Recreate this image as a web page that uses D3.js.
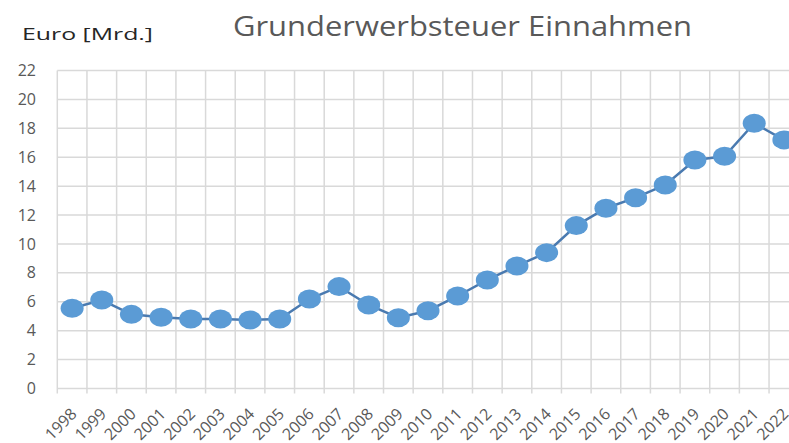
<!DOCTYPE html>
<meta charset="utf-8">
<style>
body {
  margin: 0;
  background-color: #fff;
}
.grid line {
  stroke: #d9d9d9;
  stroke-width: 1.5px;
}
.axis text {
  fill: #595959;
  font-family: "Open Sans", sans-serif;
  font-size: 16px;
}
.line {
  fill: none;
  stroke: #4a7ab0;
  stroke-width: 2.5px;
}
.dot {
  fill: #5b9bd5;
}
</style>
<svg class="chart" width="789" height="443"></svg>

<script src="https://d3js.org/d3.v7.min.js"></script>
<script>
var years = ["1998","1999","2000","2001","2002","2003","2004","2005","2006","2007","2008","2009",
             "2010","2011","2012","2013","2014","2015","2016","2017","2018","2019","2020","2021","2022"];
var revenue = [5.55, 6.12, 5.13, 4.93, 4.81, 4.81, 4.74, 4.81, 6.19, 7.05, 5.78, 4.9,
               5.38, 6.4, 7.51, 8.48, 9.4, 11.27, 12.47, 13.2, 14.08, 15.81, 16.07, 18.35, 17.2];
var yTicks = [0, 2, 4, 6, 8, 10, 12, 14, 16, 18, 20, 22];

var svg = d3.select(".chart");

var x = d3.scaleBand().domain(years).range([57.3, 798.7]);
var y = d3.scaleLinear().domain([0, 22]).range([388.5, 70.5]);

var data = years.map(function(d, i) { return {year: d, value: revenue[i]}; });

// gridlines
var grid = svg.append("g").attr("class", "grid");
grid.selectAll(".h")
    .data(yTicks)
  .enter().append("line")
    .attr("x1", x.range()[0])
    .attr("x2", x.range()[1])
    .attr("y1", function(d) { return y(d); })
    .attr("y2", function(d) { return y(d); });
// vertical lines at category boundaries, plus small ticks below the axis
grid.selectAll(".v")
    .data(years)
  .enter().append("line")
    .attr("x1", function(d) { return x(d); })
    .attr("x2", function(d) { return x(d); })
    .attr("y1", y(22))
    .attr("y2", y(0) + 5);

// y axis labels
svg.append("g")
    .attr("class", "axis")
    .attr("transform", "translate(36,0)")
    .call(d3.axisLeft(y).tickValues(yTicks).tickSize(0).tickPadding(0))
    .call(function(g) { g.select(".domain").remove(); });

// x axis labels
svg.append("g")
    .attr("class", "axis")
  .selectAll("text")
    .data(years)
  .enter().append("text")
    .attr("text-anchor", "end")
    .attr("transform", function(d) {
      return "translate(" + (x(d) + x.bandwidth() / 2 + 5.5) + ",415) rotate(-45)";
    })
    .text(function(d) { return d; });

var line = d3.line()
    .x(function(d) { return x(d.year) + x.bandwidth() / 2; })
    .y(function(d) { return y(d.value); });

svg.append("path")
    .datum(data)
    .attr("class", "line")
    .attr("d", line);

svg.selectAll(".dot")
    .data(data)
  .enter().append("ellipse")
    .attr("class", "dot")
    .attr("cx", function(d) { return x(d.year) + x.bandwidth() / 2; })
    .attr("cy", function(d) { return y(d.value); })
    .attr("rx", 11.5)
    .attr("ry", 9.5);

svg.append("text")
    .text("Grunderwerbsteuer Einnahmen")
    .attr("x", 233)
    .attr("y", 35.7)
    .attr("textLength", 459)
    .attr("lengthAdjust", "spacingAndGlyphs")
    .style("font-family", "Open Sans, sans-serif")
    .style("font-size", "28px")
    .style("fill", "#595959");

svg.append("text")
    .text("Euro [Mrd.]")
    .attr("x", 22)
    .attr("y", 39.5)
    .attr("textLength", 131)
    .attr("lengthAdjust", "spacingAndGlyphs")
    .style("font-family", "Open Sans, sans-serif")
    .style("font-size", "17px")
    .style("fill", "#262626");
</script>
